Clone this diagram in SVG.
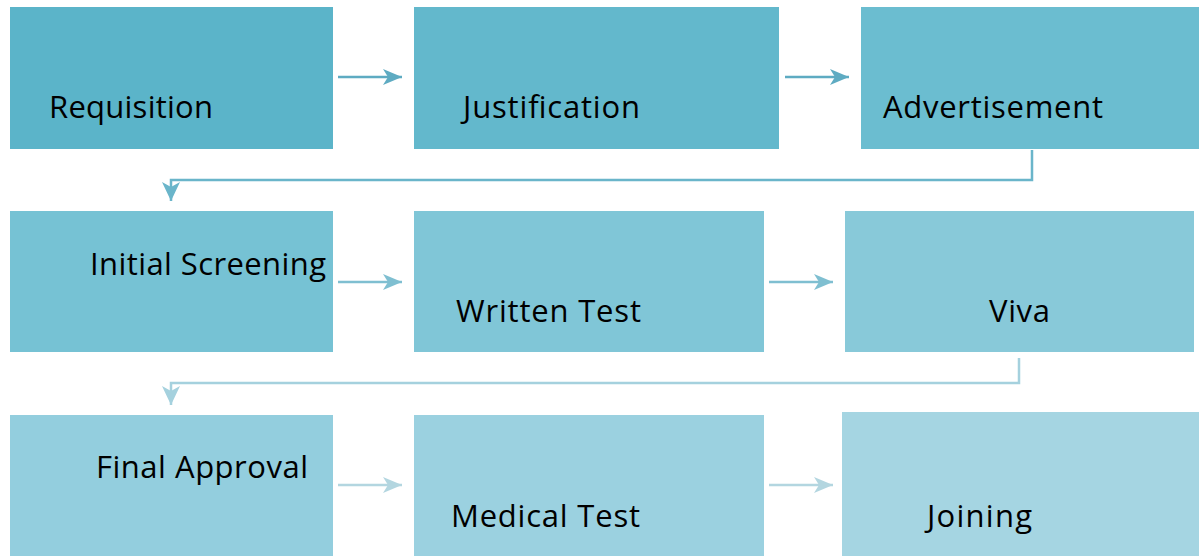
<svg xmlns="http://www.w3.org/2000/svg" width="1199" height="556" viewBox="0 0 1199 556">
<defs>
<style>
text{font-family:"Open Sans","Liberation Sans",sans-serif;font-size:31px;fill:#000}
.c{fill:none;stroke-width:2.5}
</style>
<marker id="a1" markerWidth="20" markerHeight="16" refX="19" refY="8" orient="auto" markerUnits="userSpaceOnUse"><path d="M0,0 L19,8 L0,16 L5,8 Z" fill="#5eabc2"/></marker>
<marker id="a2" markerWidth="20" markerHeight="16" refX="19" refY="8" orient="auto" markerUnits="userSpaceOnUse"><path d="M0,0 L19,8 L0,16 L5,8 Z" fill="#7fbfd1"/></marker>
<marker id="a3" markerWidth="20" markerHeight="16" refX="19" refY="8" orient="auto" markerUnits="userSpaceOnUse"><path d="M0,0 L19,8 L0,16 L5,8 Z" fill="#b3d6e0"/></marker>
<marker id="d1" markerWidth="20" markerHeight="18" refX="19" refY="9" orient="auto" markerUnits="userSpaceOnUse"><path d="M0,0 L19,9 L0,18 L5,9 Z" fill="#6ab5ca"/></marker>
<marker id="d2" markerWidth="20" markerHeight="18" refX="19" refY="9" orient="auto" markerUnits="userSpaceOnUse"><path d="M0,0 L19,9 L0,18 L5,9 Z" fill="#a5d1de"/></marker>
</defs>
<rect width="1199" height="556" fill="#fff"/>
<g id="connectors">
<path class="c" d="M338,77 H402" stroke="#5eabc2" marker-end="url(#a1)"/>
<path class="c" d="M785,77 H849" stroke="#5eabc2" marker-end="url(#a1)"/>
<path class="c" d="M1032,150 V180 H171 V201" stroke="#6ab5ca" marker-end="url(#d1)"/>
<path class="c" d="M338,282 H402" stroke="#7fbfd1" marker-end="url(#a2)"/>
<path class="c" d="M769,282 H833" stroke="#7fbfd1" marker-end="url(#a2)"/>
<path class="c" d="M1019,358 V383 H171 V405" stroke="#a5d1de" marker-end="url(#d2)"/>
<path class="c" d="M338,485 H402" stroke="#b3d6e0" marker-end="url(#a3)"/>
<path class="c" d="M769,485 H833" stroke="#b3d6e0" marker-end="url(#a3)"/>
</g>
<g id="requisition"><rect x="10" y="7" width="323" height="142" fill="#5bb4c9"/><text x="49" y="118" textLength="164">Requisition</text></g>
<g id="justification"><rect x="414" y="7" width="365" height="142" fill="#63b8cc"/><text x="463" y="118" textLength="177">Justification</text></g>
<g id="advertisement"><rect x="861" y="7" width="338" height="142" fill="#6bbdd0"/><text x="883" y="118" textLength="220">Advertisement</text></g>
<g id="initial-screening"><rect x="10" y="211" width="323" height="141" fill="#76c2d4"/><text x="90" y="275" textLength="236">Initial Screening</text></g>
<g id="written-test"><rect x="414" y="211" width="350" height="141" fill="#80c6d7"/><text x="456" y="322" textLength="185">Written Test</text></g>
<g id="viva"><rect x="845" y="211" width="349" height="141" fill="#88c9d9"/><text x="989" y="322" textLength="61">Viva</text></g>
<g id="final-approval"><rect x="10" y="415" width="323" height="141" fill="#93cede"/><text x="96" y="478" textLength="212">Final Approval</text></g>
<g id="medical-test"><rect x="414" y="415" width="350" height="141" fill="#9bd1e0"/><text x="451" y="527" textLength="189">Medical Test</text></g>
<g id="joining"><rect x="842" y="412" width="357" height="144" fill="#a5d5e2"/><text x="927" y="527" textLength="105">Joining</text></g>
</svg>
